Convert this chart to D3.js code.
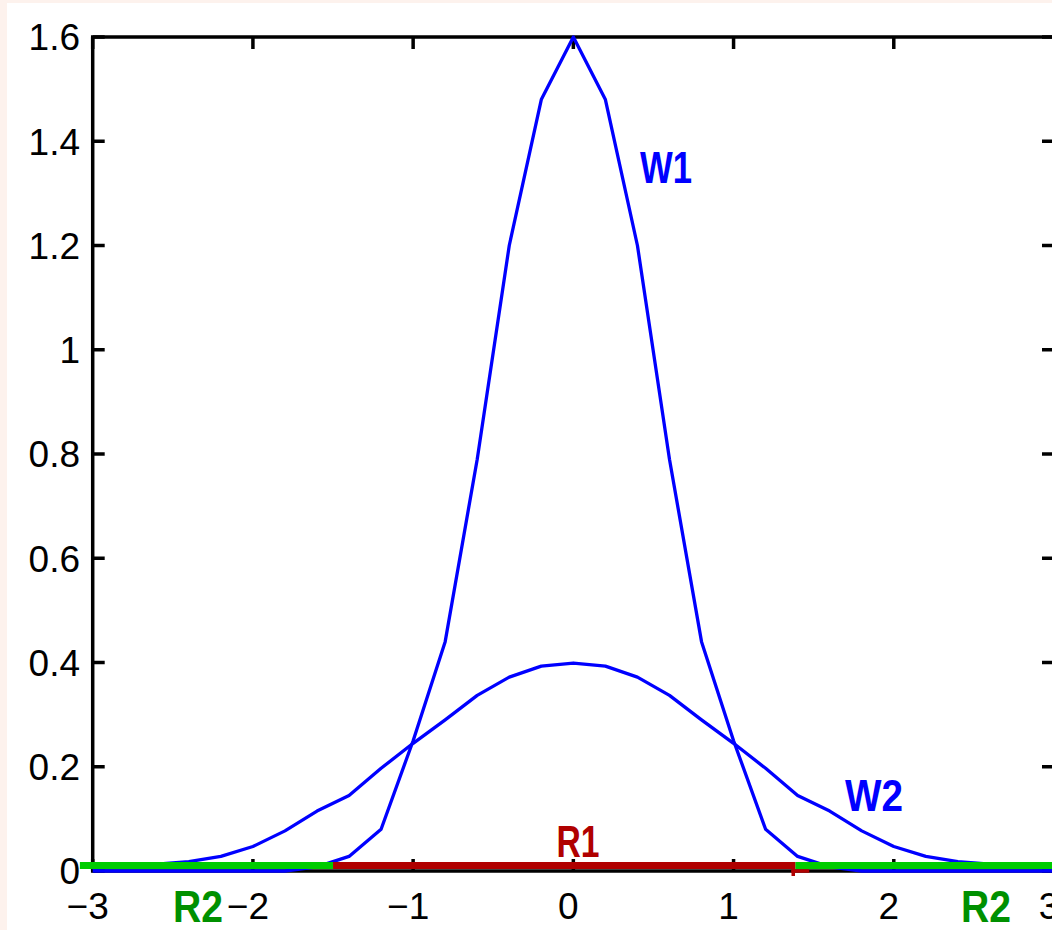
<!DOCTYPE html>
<html>
<head>
<meta charset="utf-8">
<script src="https://cdn.jsdelivr.net/npm/d3@7"></script>
<style>
  html, body { margin: 0; padding: 0; background: #fdf2ed; }
  svg { display: block; }
</style>
</head>
<body>
<svg id="chart" width="1052" height="930"></svg>
<script>
// Sample positions along x
const xSamples = [-3, -2.8, -2.6, -2.4, -2.2, -2, -1.8, -1.6, -1.4, -1.2, -1, -0.8, -0.6, -0.4, -0.2,
                  0, 0.2, 0.4, 0.6, 0.8, 1, 1.2, 1.4, 1.6, 1.8, 2, 2.2, 2.4, 2.6, 2.8, 3];

// Narrow class density W1
const w1Values = [0, 0, 0, 0, 0, 0, 0, 0.008, 0.028, 0.08, 0.25, 0.44, 0.79, 1.2, 1.48,
                  1.6, 1.48, 1.2, 0.79, 0.44, 0.25, 0.08, 0.028, 0.008, 0, 0, 0, 0, 0, 0, 0];

// Wide class density W2
const w2Values = [0.005, 0.008, 0.013, 0.018, 0.028, 0.047, 0.077, 0.115, 0.145, 0.197, 0.245, 0.29, 0.337, 0.372, 0.393,
                  0.399, 0.393, 0.372, 0.337, 0.29, 0.245, 0.197, 0.145, 0.115, 0.077, 0.047, 0.028, 0.018, 0.013, 0.008, 0.005];

const seriesNames = ["W1", "W2"];

// Decision regions on the x axis
const r1Span = [-1.5, 1.385];
const r2Spans = [[-3.08, -1.5], [1.385, 3.08]];
const regionNames = ["R1", "R2"];

// Axis ticks
const xTicks = [-3, -2, -1, 0, 1, 2, 3];
const xTickLabels = ["\u22123", "\u22122", "\u22121", "0", "1", "2", "3"];
const yTicks = [0, 0.2, 0.4, 0.6, 0.8, 1, 1.2, 1.4, 1.6];
const yTickLabels = ["0", "0.2", "0.4", "0.6", "0.8", "1", "1.2", "1.4", "1.6"];

const svg = d3.select("#chart");
const FONT = "'Liberation Sans', Arial, Helvetica, sans-serif";

const x = d3.scaleLinear().domain([-3, 3]).range([92.7, 1054]);
const y = d3.scaleLinear().domain([0, 1.6]).range([871, 37]);

// page background
svg.append("rect").attr("x", 7).attr("y", 3).attr("width", 1045).attr("height", 927).attr("fill", "#ffffff");

const AXW = 3.5, TICK = 12;
const frame = svg.append("g").attr("stroke", "#000").attr("stroke-width", AXW).attr("fill", "none");
frame.append("rect")
  .attr("x", x(-3)).attr("y", y(1.6))
  .attr("width", x(3) - x(-3)).attr("height", y(0) - y(1.6));

// inward ticks on all four sides
xTicks.forEach(t => {
  frame.append("line").attr("x1", x(t)).attr("x2", x(t)).attr("y1", y(0)).attr("y2", y(0) - TICK);
  frame.append("line").attr("x1", x(t)).attr("x2", x(t)).attr("y1", y(1.6)).attr("y2", y(1.6) + TICK);
});
yTicks.forEach(t => {
  frame.append("line").attr("x1", x(-3)).attr("x2", x(-3) + TICK).attr("y1", y(t)).attr("y2", y(t));
  frame.append("line").attr("x1", x(3)).attr("x2", x(3) - TICK).attr("y1", y(t)).attr("y2", y(t));
});

// tick labels
const TFS = 37;
svg.append("g").selectAll("text").data(yTicks).join("text")
  .attr("x", 80).attr("y", d => y(d) + TFS * 0.36)
  .attr("text-anchor", "end")
  .attr("font-family", FONT).attr("font-size", TFS).attr("fill", "#000")
  .text((d, i) => yTickLabels[i]);

svg.append("g").selectAll("text").data(xTicks).join("text")
  .attr("x", d => x(d) - 5).attr("y", 906 + TFS * 0.36)
  .attr("text-anchor", "middle")
  .attr("font-family", FONT).attr("font-size", TFS).attr("fill", "#000")
  .text((d, i) => xTickLabels[i]);

// density curves
const line = d3.line().x(d => x(d[0])).y(d => y(d[1]));
[w1Values, w2Values].forEach(vals => {
  svg.append("path")
    .datum(xSamples.map((xv, i) => [xv, vals[i]]))
    .attr("d", line)
    .attr("fill", "none")
    .attr("stroke", "#0000ff")
    .attr("stroke-width", 3.3)
    .attr("stroke-linejoin", "round");
});

// region bars along y = 0
const BAR = 7, BAR_OFF = 5.5;
r2Spans.forEach(s => {
  svg.append("line")
    .attr("x1", x(s[0])).attr("x2", x(s[1]))
    .attr("y1", y(0) - BAR_OFF).attr("y2", y(0) - BAR_OFF)
    .attr("stroke", "#00cc00").attr("stroke-width", BAR);
});
svg.append("line")
  .attr("x1", x(r1Span[0])).attr("x2", x(r1Span[1]))
  .attr("y1", y(0) - BAR_OFF).attr("y2", y(0) - BAR_OFF)
  .attr("stroke", "#b00000").attr("stroke-width", BAR);
// small end marker of R1
svg.append("line")
  .attr("x1", x(r1Span[1]) - 4).attr("x2", x(r1Span[1]) + 14)
  .attr("y1", y(0)).attr("y2", y(0))
  .attr("stroke", "#b00000").attr("stroke-width", AXW);
svg.append("line")
  .attr("x1", x(r1Span[1]) - 2).attr("x2", x(r1Span[1]) - 2)
  .attr("y1", y(0) - 2).attr("y2", y(0) + 5)
  .attr("stroke", "#b00000").attr("stroke-width", AXW);

// annotations
const notes = [
  { text: seriesNames[0], cx: 666, cy: 167, w: 52, color: "#0000ff" },
  { text: seriesNames[1], cx: 874, cy: 795, w: 58, color: "#0000ff" },
  { text: regionNames[0], cx: 578, cy: 841.5, w: 43, color: "#b00000" },
  { text: regionNames[1], cx: 198, cy: 906.5, w: 50, color: "#009000" },
  { text: regionNames[1], cx: 986, cy: 906.5, w: 50, color: "#009000" }
];
const NFS = 44;
svg.append("g").selectAll("text").data(notes).join("text")
  .attr("x", d => d.cx - d.w / 2).attr("y", d => d.cy + NFS * 0.358)
  .attr("textLength", d => d.w).attr("lengthAdjust", "spacingAndGlyphs")
  .attr("font-family", FONT).attr("font-size", NFS).attr("font-weight", "bold")
  .attr("fill", d => d.color)
  .text(d => d.text);
</script>
</body>
</html>
